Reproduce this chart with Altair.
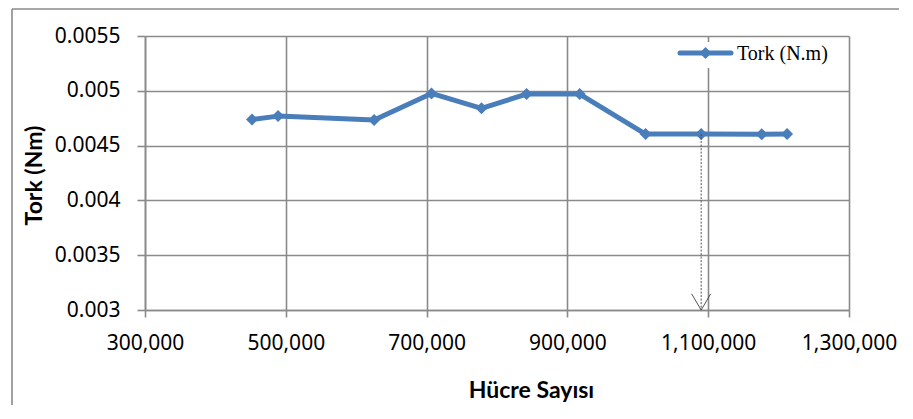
import altair as alt
import pandas as pd

# Data
cells = [452000, 489000, 625500, 707000, 778000, 842000, 917500, 1011000, 1090000, 1176000, 1212000]
torque = [0.004739, 0.004769, 0.004733, 0.004976, 0.004840, 0.004970, 0.004970, 0.004605, 0.004605, 0.004603, 0.004605]
series_name = ["Tork (N.m)"]
x_ticks = [300000, 500000, 700000, 900000, 1100000, 1300000]
y_ticks = [0.003, 0.0035, 0.004, 0.0045, 0.005, 0.0055]
arrow_x = [1090000]
arrow_top = [0.004605]
arrow_bottom = [0.003]

BLUE = "#4a7ebb"
GRID = "#8a8a8a"

df = pd.DataFrame({"cells": cells, "torque": torque})
arrow_df = pd.DataFrame({"x": arrow_x, "y": arrow_top, "y2": arrow_bottom})
legend_df = pd.DataFrame({"name": series_name})

xscale = alt.Scale(domain=[300000, 1300000], nice=False, zero=False)
yscale = alt.Scale(domain=[0.003, 0.0055], nice=False, zero=False)

xaxis = alt.Axis(
    values=x_ticks, format=",.0f", title="Hücre Sayısı",
    labelFont="Noto Sans", labelFontSize=21, labelColor="#000000", labelPadding=15,
    labelOverlap=False, labelFlush=False,
    titleFont="Lato", titleFontSize=23, titleFontWeight="bold", titleColor="#000000",
    titleX=386, titleY=87, titleBaseline="alphabetic", titleAlign="center",
    grid=True, gridColor=GRID, gridWidth=1.6, domainColor=GRID, domainWidth=1.6,
    tickColor=GRID, tickWidth=1.6, tickSize=7,
)
yaxis = alt.Axis(
    values=y_ticks, format="~g", title="Tork (Nm)",
    labelFont="Noto Sans", labelFontSize=21, labelColor="#000000", labelPadding=17,
    labelOverlap=False, labelFlush=False,
    titleFont="Lato", titleFontSize=23, titleFontWeight="bold", titleColor="#000000",
    titleX=-104, titleY=139, titleBaseline="alphabetic", titleAlign="center",
    grid=True, gridColor=GRID, gridWidth=1.6, domainColor=GRID, domainWidth=1.6,
    tickColor=GRID, tickWidth=1.6, tickSize=8,
)

base = alt.Chart(df)

line = base.mark_line(color=BLUE, strokeWidth=5, strokeJoin="round").encode(
    x=alt.X("cells:Q", scale=xscale, axis=xaxis),
    y=alt.Y("torque:Q", scale=yscale, axis=yaxis),
)
pts = base.mark_point(shape="diamond", filled=True, color=BLUE, size=144, opacity=1).encode(
    x=alt.X("cells:Q", scale=xscale),
    y=alt.Y("torque:Q", scale=yscale),
)

arrow_line = alt.Chart(arrow_df).mark_rule(color="#404040", strokeWidth=0.9, strokeDash=[2, 1.5]).encode(
    x=alt.X("x:Q", scale=xscale),
    y=alt.Y("y:Q", scale=yscale),
    y2="y2:Q",
)
arrow_head = alt.Chart(arrow_df).mark_point(
    shape="M-1,-1.7L0,0L1,-1.7", filled=False, color="#404040", strokeWidth=0.9, size=361, opacity=1
).encode(
    x=alt.X("x:Q", scale=xscale),
    y=alt.Y("y2:Q", scale=yscale),
)

# legend (drawn manually)
leg = alt.Chart(legend_df)
leg_bg = leg.mark_rect(fill="white", stroke=None).encode(
    x=alt.value(529), x2=alt.value(697), y=alt.value(6), y2=alt.value(32)
)
leg_line = leg.mark_rule(color=BLUE, strokeWidth=5, strokeCap="round").encode(
    x=alt.value(535), x2=alt.value(586), y=alt.value(17)
)
leg_pt = leg.mark_point(shape="diamond", filled=True, color=BLUE, size=144, opacity=1).encode(
    x=alt.value(560.5), y=alt.value(17)
)
leg_txt = leg.mark_text(align="left", baseline="middle", font="Liberation Serif", fontSize=20, color="#000000").encode(
    x=alt.value(592), y=alt.value(18), text="name:N"
)

# outer chart frame (left and top edges)
frame_left = leg.mark_rule(color=GRID, strokeWidth=1.6).encode(
    x=alt.value(-133), y=alt.value(-27), y2=alt.value(400)
)
frame_top = leg.mark_rule(color=GRID, strokeWidth=1.6).encode(
    x=alt.value(-133), x2=alt.value(800), y=alt.value(-27)
)

chart = alt.layer(
    frame_left, frame_top, line, pts, arrow_line, arrow_head, leg_bg, leg_line, leg_pt, leg_txt
).properties(
    width=704, height=274,
    autosize=alt.AutoSizeParams(type="none"),
    padding={"left": 137, "top": 28, "right": 50, "bottom": 95},
    background="white",
).configure_view(stroke=None)

chart.save("out.html", embed_options={"renderer": "svg", "actions": False})
